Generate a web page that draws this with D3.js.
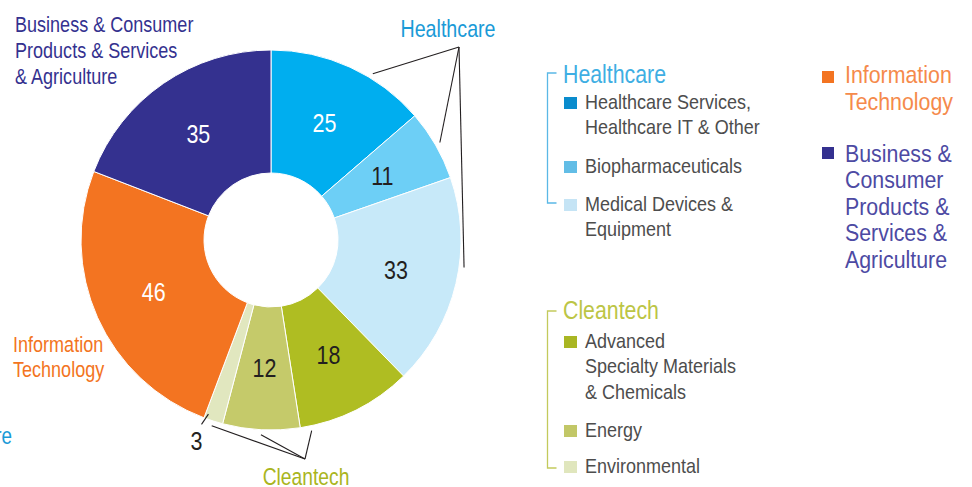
<!DOCTYPE html>
<html><head><meta charset="utf-8">
<script src="https://cdn.jsdelivr.net/npm/d3@7"></script>
<style>
body{margin:0;background:#fff;}
svg text{font-family:"Liberation Sans",Arial,sans-serif;}
</style></head>
<body><svg id="c" width="972" height="487"></svg>
<script>
const categories = ["Healthcare Services, Healthcare IT & Other","Biopharmaceuticals","Medical Devices & Equipment","Advanced Specialty Materials & Chemicals","Energy","Environmental","Information Technology","Business & Consumer Products & Services & Agriculture"];
const values = [25, 11, 33, 18, 12, 3, 46, 35];
const sliceColors = ["#00aeef","#6dcff6","#c7e9f9","#afbd22","#c5ca6a","#e1e7bf","#f37421","#34318f"];
const labelColors = ["#fff","#231f20","#231f20","#231f20","#231f20","#231f20","#fff","#fff"];
const groups = ["Healthcare","Healthcare","Healthcare","Cleantech","Cleantech","Cleantech","Information Technology","Business"];

const svg = d3.select("#c");
const cx = 271, cy = 240, R = 190, r0 = 67;
const g = svg.append("g").attr("transform", `translate(${cx},${cy})`);
const pie = d3.pie().sort(null).value(d => d);
const arcs = pie(values);
const arc = d3.arc().innerRadius(r0).outerRadius(R);
g.selectAll("path.s").data(arcs).join("path").attr("class","s")
  .attr("d", arc).attr("fill", (d,i) => sliceColors[i])
  .attr("stroke", "#fff").attr("stroke-width", 1);

const pt = (d, frac, rad) => { const a = d.startAngle + frac*(d.endAngle-d.startAngle); return [rad*Math.sin(a), -rad*Math.cos(a)]; };

// value labels
g.selectAll("text.v").data(arcs).join("text").attr("class","v")
  .attr("transform", (d,i) => {
    const c = (i === 5) ? pt(d, 0.95, 214) : arc.centroid(d);
    return `translate(${c[0]},${c[1]}) scale(0.86,1)`;
  })
  .attr("dy", "0.36em").attr("text-anchor","middle")
  .attr("font-size", 25).attr("fill", (d,i) => labelColors[i])
  .text((d,i) => values[i]);

// leader lines
const hcApex = [459-cx, 47-cy], ctApex = [305-cx, 459-cy];
const hcTargets = [[0,0.64],[1,0.5],[2,0.42]];
const ctTargets = [[5,0.5],[4,0.5],[3,0.91]];
const lines = [];
hcTargets.forEach(([i,f]) => lines.push([hcApex, pt(arcs[i], f, 195)]));
ctTargets.forEach(([i,f]) => lines.push([ctApex, pt(arcs[i], f, 195)]));
lines.push([pt(arcs[5],1.0,197), pt(arcs[5],0.85,185)]);
g.selectAll("line.l").data(lines).join("line").attr("class","l")
  .attr("x1", d=>d[0][0]).attr("y1", d=>d[0][1]).attr("x2", d=>d[1][0]).attr("y2", d=>d[1][1])
  .attr("stroke", "#231f20").attr("stroke-width", 1.1);

// text helper (condensed via horizontal scale)
function multi(parent, x, y, lines, size, color, lh, anchor, sx) {
  const gg = parent.append("g").attr("transform", `translate(${x},${y}) scale(${sx||0.82},1)`);
  const t = gg.append("text").attr("font-size", size).attr("fill", color).attr("text-anchor", anchor||"start");
  lines.forEach((s,k) => t.append("tspan").attr("x", 0).attr("y", k*lh).text(s));
  return t;
}
multi(svg, 15, 32, ["Business & Consumer","Products & Services","& Agriculture"], 22, "#34318f", 26);
multi(svg, 448, 37, ["Healthcare"], 24, "#1a9ad7", 26, "middle");
multi(svg, 13, 352, ["Information","Technology"], 22, "#f37421", 25.5);
multi(svg, 306, 485, ["Cleantech"], 23.5, "#a9b520", 26, "middle");
multi(svg, 12, 444, ["Healthcare"], 23, "#1a9ad7", 26, "end");

// legend
const legend = svg.append("g");
function bracket(x, y1, y2, color) {
  legend.append("path").attr("d", `M${x+9},${y1}H${x}V${y2}H${x+9}`).attr("fill","none").attr("stroke",color).attr("stroke-width",1.3);
}
bracket(547.5, 73, 203, "#5ab8e6");
bracket(547.5, 311, 468, "#c3ca5c");
multi(legend, 563, 83, ["Healthcare"], 26, "#3eaee3", 26);
multi(legend, 563, 319, ["Cleantech"], 26, "#bcc545", 26);
const legSq = ["#0a8ccd","#62bde6","#c5e4f5","#a9b623","#c2c767","#e0e6bd"];
const legLines = [["Healthcare Services,","Healthcare IT & Other"],["Biopharmaceuticals"],["Medical Devices &","Equipment"],["Advanced","Specialty Materials","& Chemicals"],["Energy"],["Environmental"]];
const legY = [109, 173, 211, 348, 437, 473];
legLines.forEach((ls,i) => {
  legend.append("rect").attr("x", 564).attr("y", legY[i]-12).attr("width", 13).attr("height", 12).attr("fill", legSq[i]);
  multi(legend, 585, legY[i], ls, 20, "#4d4d4d", 25.5, "start", 0.9);
});
legend.append("rect").attr("x", 822).attr("y", 71).attr("width", 12).attr("height", 12).attr("fill", "#f37421");
multi(legend, 845, 83, ["Information","Technology"], 24, "#f58a4b", 27, "start", 0.89);
legend.append("rect").attr("x", 822).attr("y", 147).attr("width", 12).attr("height", 12).attr("fill", "#34318f");
multi(legend, 845, 162, ["Business &","Consumer","Products &","Services &","Agriculture"], 24, "#4d4aa3", 26.5, "start", 0.89);
</script></body></html>
